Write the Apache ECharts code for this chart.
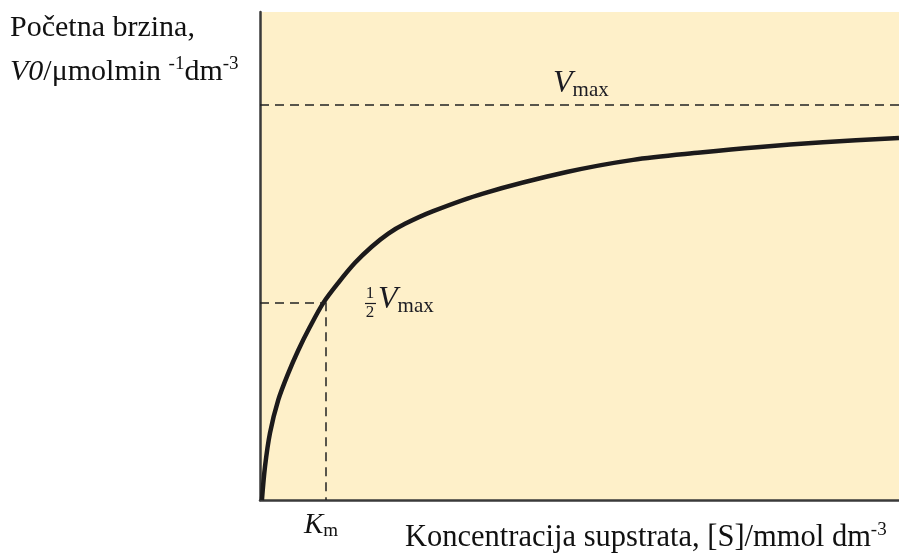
<!DOCTYPE html>
<html>
<head>
<meta charset="utf-8">
<script src="https://cdn.jsdelivr.net/npm/echarts@6/dist/echarts.min.js"></script>
<style>
  html, body { margin: 0; padding: 0; background: #fff; }
  #chart { width: 899px; height: 555px; }
</style>
</head>
<body>
<div id="chart"></div>
<script>
  // koncentracija supstrata [S] (relativne jedinice) i pocetna brzina V0
  var substrate = [0.3, 0.78, 1.56, 2.86, 4.43, 5.99, 7.82, 9.91, 12.25, 14.87, 17.48, 20.08, 22.69, 27.1, 34.9, 48.0, 58.4, 68.9, 77.8, 88.1, 100];
  var velocity = [0, 6.8, 13.7, 20.5, 26.0, 30.7, 35.5, 40.4, 44.5, 48.6, 51.9, 54.6, 56.6, 59.2, 62.8, 67.2, 69.7, 71.2, 72.3, 73.3, 74.2];
  var VMAX = 81;
  var KM = 10.3;

  var curve = substrate.map(function (s, i) { return [s, velocity[i]]; });

  var serif = 'Liberation Serif';
  var ink = '#1b1b22';
  var chart = echarts.init(document.getElementById('chart'));

  var axisBase = {
    type: 'value',
    min: 0,
    max: 100,
    axisLine: { show: true, lineStyle: { color: '#3a3a3a', width: 2.5 } },
    axisTick: { show: false },
    axisLabel: { show: false },
    splitLine: { show: false }
  };

  chart.setOption({
    animation: false,
    grid: {
      left: 260, top: 12, right: 0, bottom: 55,
      show: true, backgroundColor: '#fef0c9', borderWidth: 0
    },
    xAxis: axisBase,
    yAxis: echarts.util.merge({}, axisBase),
    series: [{
      type: 'line',
      data: curve,
      smooth: 0.3,
      showSymbol: false,
      lineStyle: { color: '#1c1a1b', width: 4.5 },
      markLine: {
        silent: true,
        symbol: 'none',
        label: { show: false },
        lineStyle: { color: '#222', width: 1.5, type: [9, 6] },
        data: [
          [{ coord: [0, VMAX] }, { coord: [100, VMAX] }],
          [{ coord: [0, VMAX / 2] }, { coord: [KM, VMAX / 2] }],
          [{ coord: [KM, VMAX / 2] }, { coord: [KM, 0] }]
        ]
      }
    }],
    graphic: [
      {
        type: 'text', left: 10, top: 13,
        style: { text: 'Početna brzina,', font: '30px ' + serif, fill: '#111' }
      },
      {
        type: 'text', left: 10, top: 55,
        style: {
          text: '{i|V0}{n|/μmolmin }{s|-1}{n|dm}{s|-3}',
          fill: '#111',
          rich: {
            i: { fontFamily: serif, fontStyle: 'italic', fontSize: 30, lineHeight: 34 },
            n: { fontFamily: serif, fontSize: 30, lineHeight: 34 },
            s: { fontFamily: serif, fontSize: 19, lineHeight: 19, verticalAlign: 'top' }
          }
        }
      },
      {
        type: 'text', left: 553, top: 68,
        style: {
          text: '{v|V}{m|max}',
          fill: ink,
          rich: {
            v: { fontFamily: serif, fontStyle: 'italic', fontSize: 32, lineHeight: 34 },
            m: { fontFamily: serif, fontSize: 21, lineHeight: 22, verticalAlign: 'bottom' }
          }
        }
      },
      // razlomak 1/2 ispred Vmax
      {
        type: 'text', x: 370, y: 294,
        style: { text: '1', font: '17px ' + serif, fill: ink, align: 'center', verticalAlign: 'middle' }
      },
      {
        type: 'line', shape: { x1: 365, y1: 303.5, x2: 376, y2: 303.5 },
        style: { stroke: ink, lineWidth: 1.2 }
      },
      {
        type: 'text', x: 370, y: 313,
        style: { text: '2', font: '17px ' + serif, fill: ink, align: 'center', verticalAlign: 'middle' }
      },
      {
        type: 'text', left: 378, top: 284,
        style: {
          text: '{v|V}{m|max}',
          fill: ink,
          rich: {
            v: { fontFamily: serif, fontStyle: 'italic', fontSize: 32, lineHeight: 34 },
            m: { fontFamily: serif, fontSize: 21, lineHeight: 22, verticalAlign: 'bottom' }
          }
        }
      },
      {
        type: 'text', left: 304, top: 511,
        style: {
          text: '{v|K}{m|m}',
          fill: '#111',
          rich: {
            v: { fontFamily: serif, fontStyle: 'italic', fontSize: 29, lineHeight: 31 },
            m: { fontFamily: serif, fontSize: 19, lineHeight: 21, verticalAlign: 'bottom' }
          }
        }
      },
      {
        type: 'text', left: 405, top: 521,
        style: {
          text: '{n|Koncentracija supstrata, [S]/mmol dm}{s|-3}',
          fill: '#111',
          rich: {
            n: { fontFamily: serif, fontSize: 30.5, lineHeight: 34 },
            s: { fontFamily: serif, fontSize: 19, lineHeight: 19, verticalAlign: 'top' }
          }
        }
      }
    ]
  });
</script>
</body>
</html>
